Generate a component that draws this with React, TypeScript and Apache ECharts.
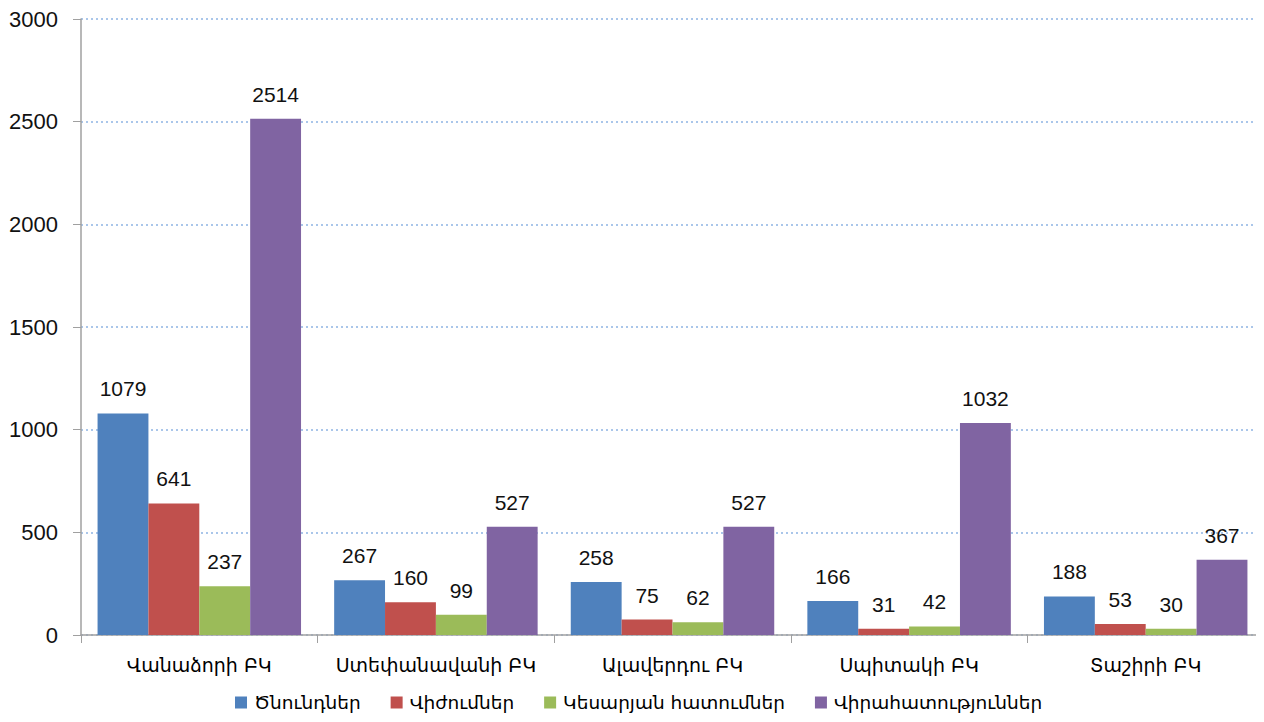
import React, { useEffect, useRef } from "react";
import * as echarts from "echarts";

const categories = ["Վանաձորի ԲԿ", "Ստեփանավանի ԲԿ", "Ալավերդու ԲԿ", "Սպիտակի ԲԿ", "Տաշիրի ԲԿ"];
const seriesNames = ["Ծնունդներ", "Վիժումներ", "Կեսարյան հատումներ", "Վիրահատություններ"];
const births = [1079, 267, 258, 166, 188];
const abortions = [641, 160, 75, 31, 53];
const cesareans = [237, 99, 62, 42, 30];
const surgeries = [2514, 527, 527, 1032, 367];
const colors = ["#4F81BD", "#C0504D", "#9BBB59", "#8064A2"];

const FONT = "'Liberation Sans', 'DejaVu Sans', sans-serif";
const ARM = "'DejaVu Sans', sans-serif";

export default function App() {
  const ref = useRef<HTMLDivElement>(null);
  useEffect(() => {
    const chart = echarts.init(ref.current!, null, { renderer: "svg" });
    const data = [births, abortions, cesareans, surgeries];
    chart.setOption({
      animation: false,
      textStyle: { fontFamily: FONT },
      grid: { left: 81, right: -3, top: 19, bottom: 87 },
      legend: {
        bottom: 5,
        left: 230,
        itemWidth: 12,
        itemHeight: 12,
        itemGap: 30,
        icon: "rect",
        textStyle: { fontSize: 18.5, color: "#000", fontFamily: ARM, padding: [0, 0, 0, 2] },
        data: seriesNames,
      },
      xAxis: {
        type: "category",
        data: categories,
        axisLine: { lineStyle: { color: "#a0a0a0", width: 1.5 } },
        axisTick: { show: true, interval: 0, length: 8, lineStyle: { color: "#a0a0a0" } },
        axisLabel: { interval: 0, fontSize: 19, color: "#000", margin: 20, fontFamily: ARM },
      },
      yAxis: {
        type: "value",
        min: 0,
        max: 3000,
        interval: 500,
        axisLine: { show: true, lineStyle: { color: "#a0a0a0", width: 1.5 } },
        axisTick: { show: true, length: 8, lineStyle: { color: "#a0a0a0" } },
        axisLabel: {
          fontSize: 22,
          color: "#111",
          margin: 23,
          fontFamily: FONT,
          formatter: (v: number) => String(v),
        },
        splitLine: { lineStyle: { color: "#8EB4E3", type: [2, 3], width: 1.5 } },
      },
      series: seriesNames.map((name, i) => ({
        name,
        type: "bar",
        data: data[i],
        barGap: "0%",
        barCategoryGap: "14%",
        itemStyle: { color: colors[i] },
        label: {
          show: true,
          position: "top",
          distance: 14,
          fontSize: 21,
          color: "#111",
          fontFamily: FONT,
        },
      })),
    });
    return () => chart.dispose();
  }, []);
  return <div ref={ref} style={{ width: 1264, height: 722, margin: -8 }} />;
}
